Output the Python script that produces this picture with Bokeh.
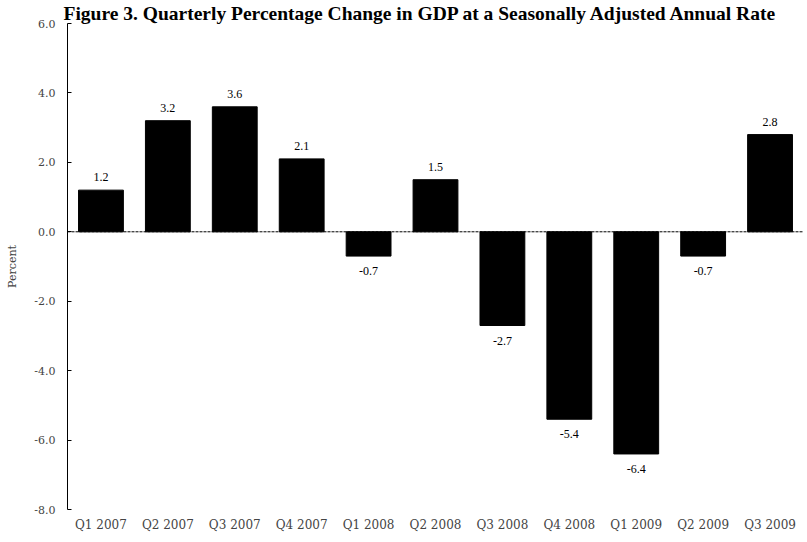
from bokeh.plotting import figure
from bokeh.models import ColumnDataSource, FixedTicker, PrintfTickFormatter, Span, LabelSet
from bokeh.embed import file_html
from bokeh.resources import INLINE

quarters = ["Q1 2007", "Q2 2007", "Q3 2007", "Q4 2007", "Q1 2008", "Q2 2008",
            "Q3 2008", "Q4 2008", "Q1 2009", "Q2 2009", "Q3 2009"]
gdp_change = [1.2, 3.2, 3.6, 2.1, -0.7, 1.5, -2.7, -5.4, -6.4, -0.7, 2.8]
y_ticks = [-8, -6, -4, -2, 0, 2, 4, 6]
title_text = "Figure 3. Quarterly Percentage Change in GDP at a Seasonally Adjusted Annual Rate"

labels = ["%.1f" % v for v in gdp_change]
offsets = [9 if v >= 0 else -11 for v in gdp_change]
baselines = ["bottom" if v >= 0 else "top" for v in gdp_change]
src = ColumnDataSource(dict(q=quarters, v=gdp_change, lab=labels, off=offsets, base=baselines))

FONT = "DejaVu Serif"
TFONT = "Liberation Serif"

p = figure(x_range=quarters, y_range=(-8, 6), width=805, height=534,
           frame_width=736, frame_height=486,
           min_border_left=67, min_border_right=2, min_border_top=20, min_border_bottom=24,
           output_backend="svg", toolbar_location=None)
p.outline_line_color = None
p.xgrid.visible = False
p.ygrid.visible = False

p.title.text = title_text
p.title.align = "left"
p.title.offset = -4
p.title.standoff = 0
p.title.text_font = TFONT
p.title.text_font_style = "bold"
p.title.text_font_size = "19.5px"
p.title.text_color = "black"

p.vbar(x="q", top="v", bottom=0, width=0.67, source=src, fill_color="black", line_color="black")

p.add_layout(Span(location=0, dimension="width", line_color="black", line_width=1, line_dash="3 1"))

p.add_layout(LabelSet(x="q", y="v", text="lab", y_offset="off", text_baseline="base", text_align="center",
                      source=src, text_font=FONT, text_font_size="12px", text_color="black"))

p.yaxis.ticker = FixedTicker(ticks=y_ticks)
p.yaxis.formatter = PrintfTickFormatter(format="%.1f")
p.yaxis.major_tick_in = 4
p.yaxis.major_tick_out = 0
p.yaxis.minor_tick_line_color = None
p.yaxis.axis_line_color = "black"
p.yaxis.major_label_text_font = FONT
p.yaxis.major_label_text_font_size = "11px"
p.yaxis.major_label_standoff = 12
p.yaxis.axis_label = "Percent"
p.yaxis.axis_label_text_font = FONT
p.yaxis.axis_label_text_font_style = "normal"
p.yaxis.axis_label_text_font_size = "11px"
p.yaxis.axis_label_standoff = 12

p.xaxis.axis_line_color = None
p.xaxis.major_tick_line_color = None
p.xaxis.major_tick_in = 0
p.xaxis.major_tick_out = 0
p.xaxis.minor_tick_line_color = None
p.xaxis.major_label_text_font = FONT
p.xaxis.major_label_text_font_size = "12px"
p.xaxis.major_label_standoff = 8

open("out.html", "w").write(file_html(p, INLINE))
